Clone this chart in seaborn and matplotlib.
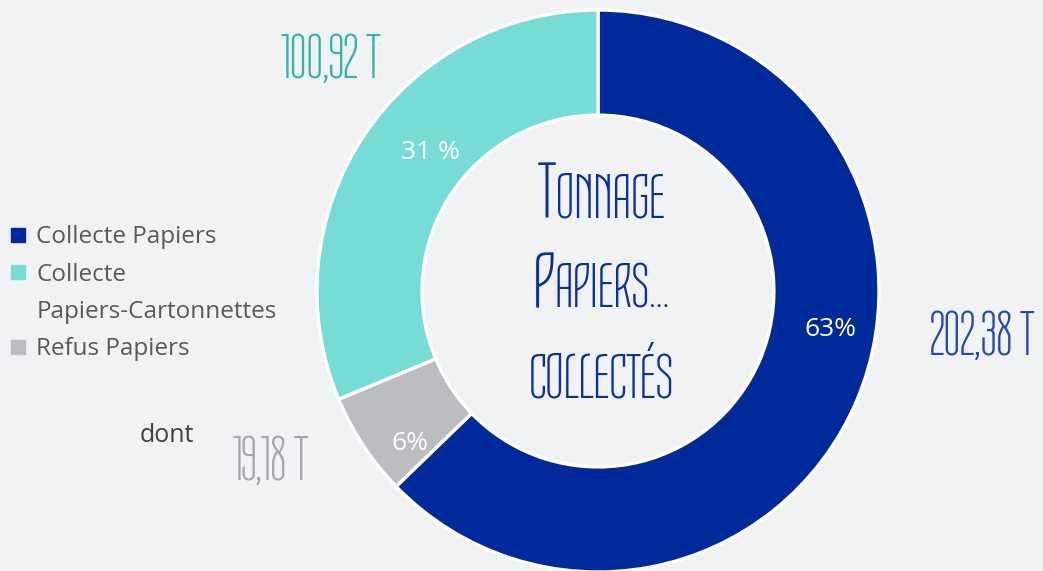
import numpy as np
import matplotlib
matplotlib.use("Agg")
import matplotlib.pyplot as plt
import matplotlib.transforms as mtransforms
import seaborn as sns

# ==========================================
# Données
# ==========================================
categories = ["Collecte Papiers", "Refus Papiers", "Collecte Papiers-Cartonnettes"]
tonnages = [202.38, 19.18, 100.92]
pct_labels = ["63%", "6%", "31 %"]
value_labels = ["202,38 T", "19,18 T", "100,92 T"]
title_lines = [("T", "ONNAGE"), ("P", "APIERS..."), ("", "COLLECTÉS")]

colors = ["#002a9a", "#bcbdc0", "#78dcd6"]
value_colors = ["#2847b2", "#a6a7aa", "#35b3a6"]
BG = "#f1f2f4"
THIN = "Tulpen One"
SANS = ["Open Sans", "DejaVu Sans"]

sns.set_theme(style="white")
plt.rcParams["font.family"] = SANS

W, H = 1043, 571
fig = plt.figure(figsize=(W / 100, H / 100), dpi=100, facecolor=BG)

# axe carré centré sur le donut (centre ~ (598, 291) px, rayon ~281 px)
cx, cy, r = 598, 291, 281
ax = fig.add_axes([(cx - r) / W, (H - cy - r) / H, 2 * r / W, 2 * r / H])
ax.set_facecolor(BG)

wedges, _ = ax.pie(tonnages, colors=colors, startangle=90, counterclock=False,
                   radius=1.0, wedgeprops=dict(width=0.374, edgecolor="white", linewidth=2.4))
ax.set_xlim(-1.0, 1.0)
ax.set_ylim(-1.0, 1.0)
ax.set_aspect("equal")
ax.axis("off")

# pourcentages dans l'anneau (rayon, angle en degrés)
pct_pos = [(0.84, -9.5), (0.86, -141), (0.776, 140.4)]
for lab, (rr, ang) in zip(pct_labels, pct_pos):
    a = np.deg2rad(ang)
    ax.text(rr * np.cos(a), rr * np.sin(a), lab, color="white", fontsize=19,
            ha="center", va="center", family=SANS)

# titre central en petites capitales (grande initiale + reste plus petit)
renderer = fig.canvas.get_renderer()
baselines = [218, 308, 398]
for (first, rest), by in zip(title_lines, baselines):
    y = (cy - by) / r
    t1 = ax.text(0, y, first, color="#0b2fa3", fontsize=58, family=THIN,
                 ha="left", va="baseline")
    t2 = ax.text(0, y, rest, color="#0b2fa3", fontsize=46, family=THIN,
                 ha="left", va="baseline")
    w1 = t1.get_window_extent(renderer).width if first else 0.0
    w2 = t2.get_window_extent(renderer).width
    start = -(w1 + w2) / 2 + 3
    t1.set_transform(mtransforms.offset_copy(ax.transData, fig, x=start, y=0, units="dots"))
    t2.set_transform(mtransforms.offset_copy(ax.transData, fig, x=start + w1, y=0, units="dots"))

# tonnages autour du donut
val_pos = [(930, 337), (232, 462), (280, 60)]
for lab, col, (px, py) in zip(value_labels, value_colors, val_pos):
    fig.text(px / W, 1 - py / H, lab, color=col, fontsize=46, family=THIN,
             ha="left", va="center")

fig.text(140 / W, 1 - 436 / H, "dont", color="#404040", fontsize=18,
         ha="left", va="center")

# légende (le libellé long est coupé sur deux lignes, la 2e sans marqueur)
leg_colors = [colors[0], colors[2], "none", colors[1]]
leg_labels = ["Collecte Papiers", "Collecte", "Papiers-Cartonnettes", "Refus Papiers"]
handles = [plt.Line2D([], [], marker="s", linestyle="", markersize=10.5,
                      markerfacecolor=c, markeredgecolor=c) for c in leg_colors]
leg = fig.legend(handles, leg_labels, loc="upper left", bbox_to_anchor=(1 / W, 1 - 218 / H),
                 frameon=False, fontsize=17.5, handlelength=0.8, handletextpad=0.35,
                 labelspacing=0.55, borderaxespad=0.0, borderpad=0.3)
for t in leg.get_texts():
    t.set_color("#595959")

fig.savefig("out.png", dpi=100, facecolor=BG)
